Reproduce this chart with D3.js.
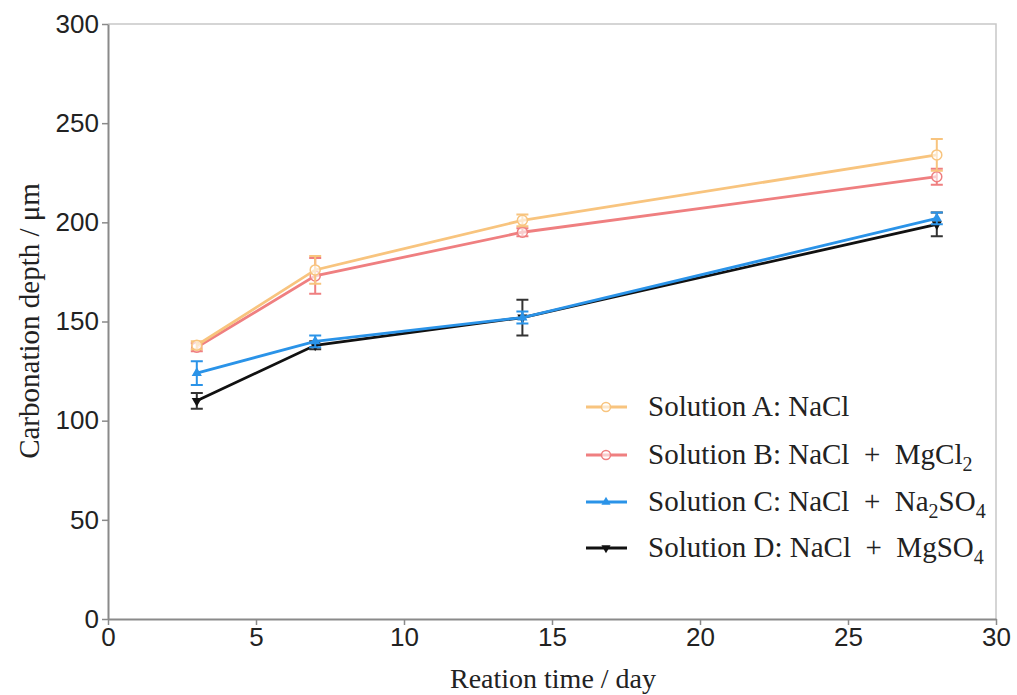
<!DOCTYPE html>
<html><head><meta charset="utf-8">
<script src="https://cdn.jsdelivr.net/npm/d3@7"></script>
<style>body{margin:0;background:#fff}svg{display:block}</style>
</head><body>
<svg id="c" width="1017" height="695"></svg>
<script>
const days = [3, 7, 14, 28];
const seriesA = [138, 176, 201, 234];
const errA = [2, 7, 3, 8];
const seriesB = [137, 173, 195, 223];
const errB = [2, 9, 2, 4];
const seriesC = [124, 140, 152, 202];
const errC = [6, 3, 3, 3];
const seriesD = [110, 138, 152, 199];
const errD = [4, 2, 9, 6];
const xTicks = [0, 5, 10, 15, 20, 25, 30];
const yTicks = [0, 50, 100, 150, 200, 250, 300];
const names = ["Solution A: NaCl", "Solution B: NaCl + MgCl|2", "Solution C: NaCl + Na|2|SO|4", "Solution D: NaCl + MgSO|4"];

const series = [
  {vals: seriesA, err: errA, color: "#f8c47e", marker: "circle"},
  {vals: seriesB, err: errB, color: "#ef7f80", marker: "circle"},
  {vals: seriesC, err: errC, color: "#2a93e8", marker: "triUp"},
  {vals: seriesD, err: errD, color: "#111111", marker: "triDown"}
];

const svg = d3.select("#c");
const x = d3.scaleLinear().domain([0, 30]).range([108, 996]);
const y = d3.scaleLinear().domain([0, 300]).range([619, 24]);
const axisColor = "#8a8a8a";

svg.append("path").attr("d", `M${x(0)},${y(300)}H${x(30)}V${y(0)}`).attr("fill","none").attr("stroke","#c8c8c8").attr("stroke-width",1.5);

const gx = svg.append("g").attr("transform", `translate(0,${y(0)})`)
  .call(d3.axisBottom(x).tickValues(xTicks).tickSize(6).tickSizeOuter(0).tickPadding(3));
const gy = svg.append("g").attr("transform", `translate(${x(0)},0)`)
  .call(d3.axisLeft(y).tickValues(yTicks).tickSize(6).tickSizeOuter(0).tickPadding(3));
[gx, gy].forEach(g => {
  g.select(".domain").attr("stroke", axisColor).attr("stroke-width", 2);
  g.selectAll(".tick line").attr("stroke", axisColor).attr("stroke-width", 1.5);
  g.selectAll(".tick text").attr("fill", "#222").style("font-family", "Liberation Sans, Arial, sans-serif").style("font-size", "26px");
});

svg.append("text").attr("x", 553).attr("y", 688).attr("text-anchor","middle")
  .style("font-family","Liberation Serif, Times New Roman, serif").style("font-size","28px").attr("fill","#222")
  .text("Reation time / day");
svg.append("text").attr("transform", `translate(39,321) rotate(-90)`).attr("text-anchor","middle")
  .style("font-family","Liberation Serif, Times New Roman, serif").style("font-size","29px").attr("fill","#222")
  .text("Carbonation depth / μm");

const line = d3.line().x(d => x(d[0])).y(d => y(d[1]));

function drawMarker(g, type, color, cx, cy, scale) {
  const s = scale || 1;
  if (type === "circle") {
    g.append("circle").attr("cx", cx).attr("cy", cy).attr("r", 5*s).attr("fill", "#fff").attr("fill-opacity",0.6).attr("stroke", color).attr("stroke-width", 1.5);
  } else {
    const sym = d3.symbol().type(d3.symbolTriangle).size(45*s*s)();
    g.append("path").attr("d", sym).attr("transform", `translate(${cx},${cy}) rotate(${type === "triDown" ? 180 : 0})`).attr("fill", color);
  }
}

const order = [3, 2, 1, 0];
order.forEach(i => {
  const s = series[i];
  const g = svg.append("g");
  const pts = days.map((d, k) => [d, s.vals[k]]);
  g.append("path").datum(pts).attr("d", line).attr("fill","none").attr("stroke", s.color).attr("stroke-width", 2.8);
  days.forEach((d, k) => {
    const cx = x(d), top = y(s.vals[k] + s.err[k]), bot = y(s.vals[k] - s.err[k]);
    const ec = i === 3 ? "#333" : s.color;
    g.append("path").attr("d", `M${cx},${top}V${bot}M${cx-6},${top}H${cx+6}M${cx-6},${bot}H${cx+6}`)
      .attr("stroke", ec).attr("stroke-width", 2).attr("fill","none");
    drawMarker(g, s.marker, s.color, cx, y(s.vals[k]));
  });
});

const legY = [407, 455, 502, 548];
series.forEach((s, i) => {
  const g = svg.append("g");
  g.append("line").attr("x1", 586).attr("x2", 627).attr("y1", legY[i]).attr("y2", legY[i]).attr("stroke", s.color).attr("stroke-width", 2.8);
  drawMarker(g, s.marker, s.color, 606, legY[i], 0.9);
  const t = g.append("text").attr("x", 648).attr("y", legY[i] + 9)
    .style("font-family","Liberation Serif, Times New Roman, serif").style("font-size","29px").attr("fill","#222")
    .attr("xml:space","preserve").style("white-space","pre");
  const parts = names[i].replace(/ \+ /g, "  +  ").split("|");
  parts.forEach((p, j) => {
    const sub = j % 2 === 1;
    t.append("tspan").text(p).attr("dy", sub ? 7 : (j > 0 ? -7 : 0)).style("font-size", sub ? "20px" : "29px");
  });
});
</script>
</body></html>
